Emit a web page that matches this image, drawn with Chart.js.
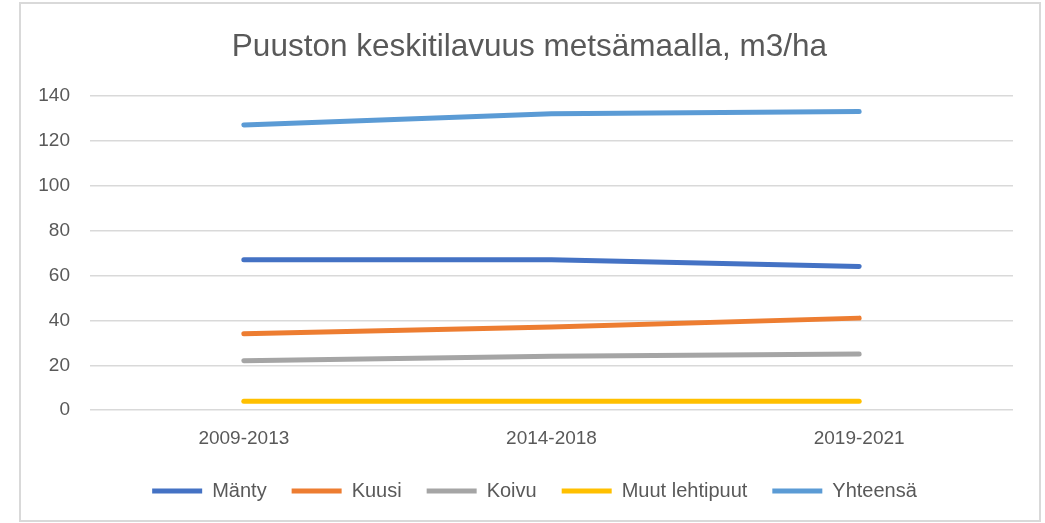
<!DOCTYPE html>
<html>
<head>
<meta charset="utf-8">
<script src="https://cdn.jsdelivr.net/npm/chart.js@4.4.1/dist/chart.umd.min.js"></script>
<style>
  body { margin: 0; background: #fff; }
  #frame {
    position: absolute; left: 19px; top: 2px;
    width: 1022px; height: 520px;
    border: 2px solid #d9d9d9; box-sizing: border-box;
  }
  #wrap { position: relative; width: 1018px; height: 516px; }
</style>
</head>
<body>
<div id="frame"><div id="wrap"><canvas id="volumeChart"></canvas></div></div>
<script>
// periods on x axis
const periods = ["2009-2013", "2014-2018", "2019-2021"];

// m3/ha per species
const manty = [67, 67, 64];
const kuusi = [34, 37, 41];
const koivu = [22, 24, 25];
const muutLehtipuut = [4, 4, 4];
const yhteensa = [127, 132, 133];

const yTicks = [0, 20, 40, 60, 80, 100, 120, 140];

const textColor = "#595959";
const fontFamily = "'Liberation Sans', Arial, sans-serif";

function lineSet(label, data, color) {
  return {
    label: label,
    data: data,
    borderColor: color,
    backgroundColor: color,
    borderWidth: 5,
    borderCapStyle: "round",
    borderJoinStyle: "round",
    pointRadius: 0,
    pointHoverRadius: 0,
    tension: 0,
    fill: false
  };
}

// padding is uneven (y labels on the left), so nudge title + legend
// back to the middle of the frame like the original
const centerShift = {
  id: "centerShift",
  afterLayout(chart) {
    if (chart.titleBlock) { chart.titleBlock.left += 7; chart.titleBlock.right += 7; }
    if (chart.legend) { chart.legend.left += 12; chart.legend.right += 12; }
  }
};

const ctx = document.getElementById("volumeChart").getContext("2d");

new Chart(ctx, {
  type: "line",
  data: {
    labels: periods,
    datasets: [
      lineSet("Mänty", manty, "#4472C4"),
      lineSet("Kuusi", kuusi, "#ED7D31"),
      lineSet("Koivu", koivu, "#A5A5A5"),
      lineSet("Muut lehtipuut", muutLehtipuut, "#FFC000"),
      lineSet("Yhteensä", yhteensa, "#5B9BD5")
    ]
  },
  plugins: [centerShift],
  options: {
    responsive: true,
    maintainAspectRatio: false,
    animation: false,
    layout: {
      padding: { left: 11, right: 26, top: 0, bottom: 9 }
    },
    plugins: {
      title: {
        display: true,
        text: "Puuston keskitilavuus metsämaalla, m3/ha",
        color: textColor,
        font: { family: fontFamily, size: 31.5, weight: "normal" },
        padding: { top: 24, bottom: 30 }
      },
      legend: {
        position: "bottom",
        labels: {
          color: textColor,
          font: { family: fontFamily, size: 20 },
          usePointStyle: true,
          pointStyle: "line",
          pointStyleWidth: 50,
          padding: 25
        }
      },
      tooltip: { enabled: false }
    },
    scales: {
      x: {
        offset: true,
        grid: { display: false, drawTicks: false },
        border: { display: false },
        ticks: {
          color: textColor,
          font: { family: fontFamily, size: 19 },
          padding: 17
        },
        // keep labels where they are but pull the legend closer
        afterFit: s => { s.height -= 11; }
      },
      y: {
        min: 0,
        max: 140,
        afterBuildTicks: axis => {
          axis.ticks = yTicks.map(v => ({ value: v }));
        },
        afterFit: s => { s.width = 58; },
        grid: { color: "#d9d9d9", lineWidth: 1.5, drawTicks: false },
        border: { display: false },
        ticks: {
          color: textColor,
          font: { family: fontFamily, size: 19 },
          padding: 20
        }
      }
    }
  }
});
</script>
</body>
</html>
